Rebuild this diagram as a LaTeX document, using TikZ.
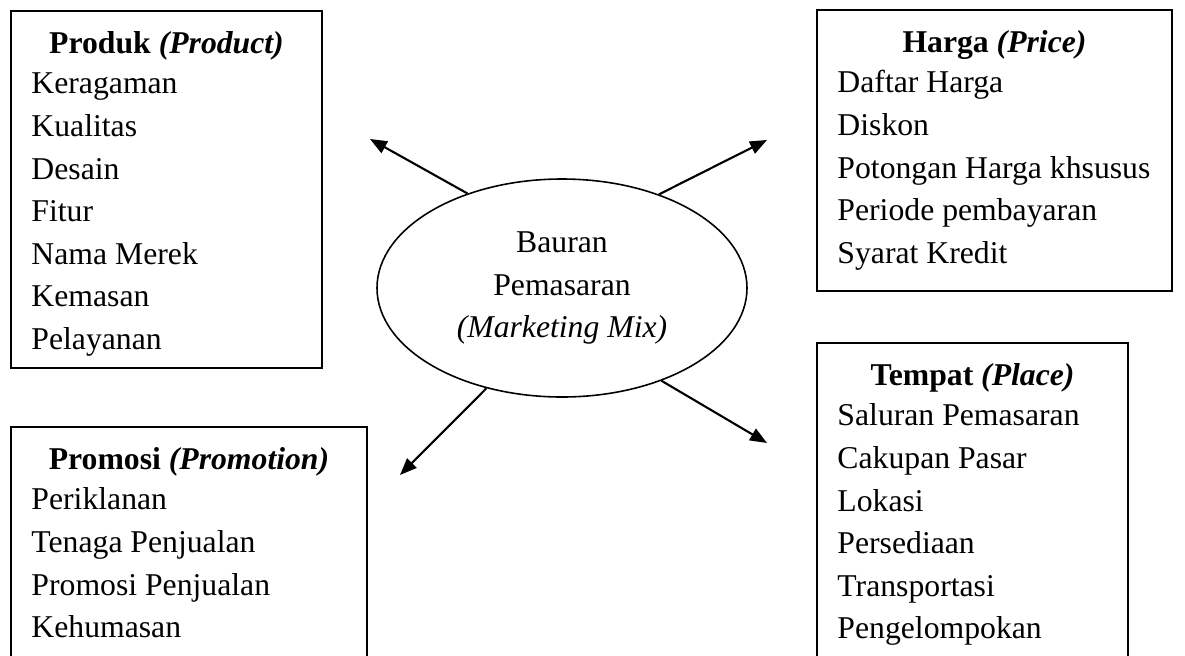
\documentclass[tikz,border=0pt]{standalone}
\usepackage{fontspec}
\setmainfont{Liberation Serif}
\usetikzlibrary{arrows.meta, shapes.geometric, positioning, fit}
\newlength\pxu
\setlength\pxu{0.3785pt}

\begin{document}
\begin{tikzpicture}[
  x=\pxu, y=\pxu,
  every node/.style={font=\fontsize{12}{16.1}\selectfont},
  frame/.style={rectangle, draw=black, thick, inner sep=0pt},
  head/.style={anchor=base, inner sep=0pt},
  list/.style={anchor=base west, align=flush left, inner sep=0pt, text width=330\pxu},
  arrow/.style={-{Triangle[length=6.4pt, width=5pt]}, thick}
]
\useasboundingbox (0,0) rectangle (1185,-655);
\clip (0,0) rectangle (1185,-655);

% centre
\node (mix) [ellipse, draw, semithick, minimum width=370\pxu, minimum height=218\pxu,
  inner sep=0pt, align=center] at (562,-288) {Bauran\\Pemasaran\\\textit{(Marketing Mix)}};

% the four boxes
\node (produk) [frame, fit={(11,-11) (322,-368)}] {};
\node (harga) [frame, fit={(817,-10) (1172,-291)}] {};
\node (tempat) [frame, fit={(817,-343) (1128,-690)}] {};
\node (promosi) [frame, fit={(11,-427) (367,-690)}] {};

\node (produkH) [head] at ([yshift=-44\pxu]produk.north) {\textbf{Produk \textit{(Product)}}};
\node (hargaH) [head] at ([yshift=-44\pxu]harga.north) {\textbf{Harga \textit{(Price)}}};
\node (tempatH) [head] at ([yshift=-44\pxu]tempat.north) {\textbf{Tempat \textit{(Place)}}};
\node (promosiH) [head] at ([yshift=-44\pxu]promosi.north) {\textbf{Promosi \textit{(Promotion)}}};

\node (produkL) [list] at ([xshift=21\pxu, yshift=-84\pxu]produk.north west)
  {Keragaman\\Kualitas\\Desain\\Fitur\\Nama Merek\\Kemasan\\Pelayanan};
\node (hargaL) [list] at ([xshift=21\pxu, yshift=-84\pxu]harga.north west)
  {Daftar Harga\\Diskon\\Potongan Harga khsusus\\Periode pembayaran\\Syarat Kredit};
\node (tempatL) [list] at ([xshift=21\pxu, yshift=-84\pxu]tempat.north west)
  {Saluran Pemasaran\\Cakupan Pasar\\Lokasi\\Persediaan\\Transportasi\\Pengelompokan};
\node (promosiL) [list] at ([xshift=21\pxu, yshift=-84\pxu]promosi.north west)
  {Periklanan\\Tenaga Penjualan\\Promosi Penjualan\\Kehumasan};

% arrow tips
\coordinate (toProduk) at (370,-139);
\coordinate (toHarga) at (767,-140);
\coordinate (toPromosi) at (400,-475);
\coordinate (toTempat) at (767,-443);

\draw[arrow] (mix.135) -- (toProduk);
\draw[arrow] (mix.44) -- (toHarga);
\draw[arrow] (mix.233) -- (toPromosi);
\draw[arrow] (mix.-43) -- (toTempat);

\end{tikzpicture}
\end{document}
